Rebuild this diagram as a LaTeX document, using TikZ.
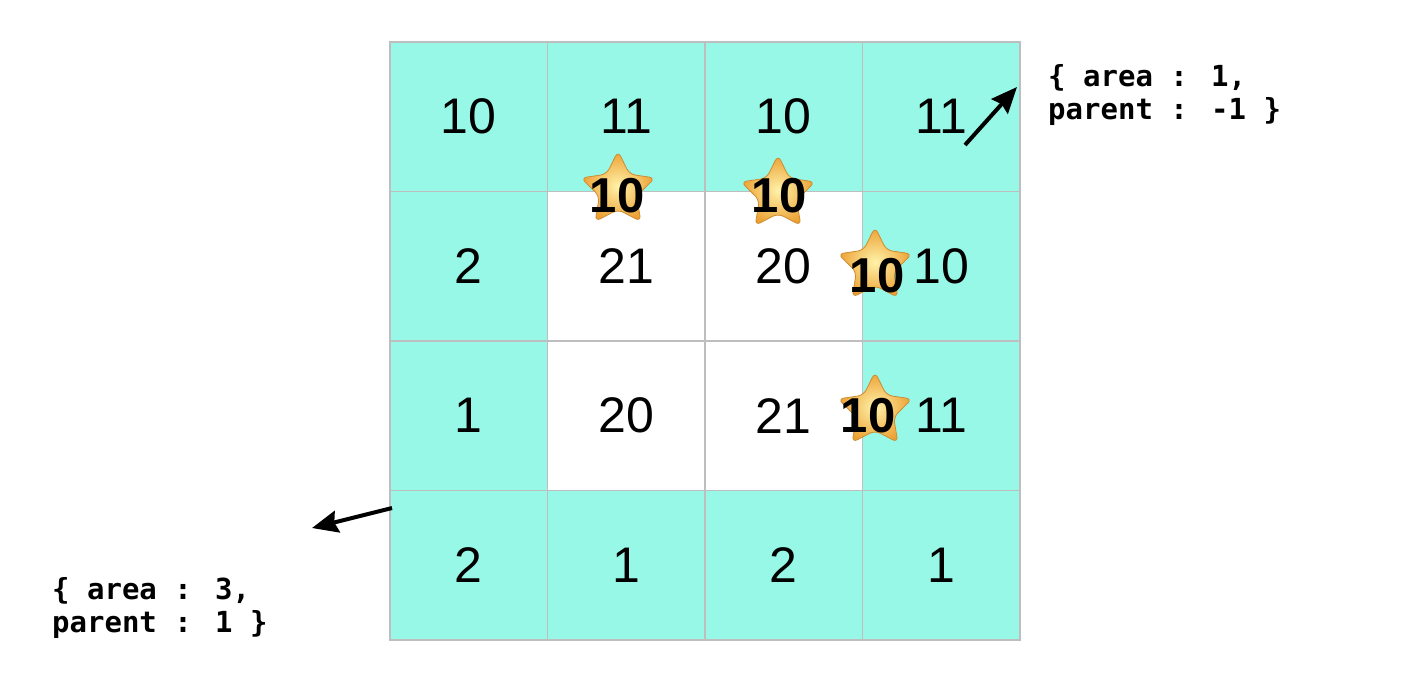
\documentclass[tikz,border=0pt]{standalone}
\usepackage{fontspec}
\setmainfont{Liberation Sans}
\newfontfamily\monob{DejaVu Sans Mono}
\usetikzlibrary{shapes.geometric,arrows.meta}
\definecolor{turq}{RGB}{152,248,232}
\definecolor{gridgray}{RGB}{190,190,190}
\definecolor{starin}{RGB}{255,242,170}
\definecolor{starout}{RGB}{236,160,50}
\definecolor{staredge}{RGB}{205,140,50}
\begin{document}
\begin{tikzpicture}[x=1pt,y=-1pt,
  cell/.style={draw=gridgray, line width=1.2pt, minimum width=157.5pt, minimum height=149.5pt, inner sep=0pt, font=\fontsize{50}{60}\selectfont},
  tcell/.style={cell, fill=turq},
  wcell/.style={cell, fill=white},
  starshape/.style={star, star points=5, star point ratio=2.0, minimum size=78pt, inner sep=0pt, rounded corners=6pt, draw=staredge, line width=0.8pt, inner color=starin, outer color=starout},
  starnum/.style={font=\bfseries\fontsize{49}{56}\selectfont, inner sep=0pt},
  ann/.style={font=\monob\bfseries\fontsize{29}{33}\selectfont, align=left, inner sep=0pt, anchor=north west},
  arr/.style={line width=4pt, -{Stealth[length=26pt,width=22pt,inset=3pt]}}
]
\fill[white] (0,0) rectangle (1416,696);
\useasboundingbox (0,0) rectangle (1416,696);
% row 1
\node[tcell] (c11) at (468.75,116.75) {10};
\node[tcell] (c12) at (626.25,116.75) {11};
\node[tcell] (c13) at (783.75,116.75) {10};
\node[tcell] (c14) at (941.25,116.75) {11};
% row 2
\node[tcell] (c21) at (468.75,266.25) {2};
\node[wcell] (c22) at (626.25,266.25) {21};
\node[wcell] (c23) at (783.75,266.25) {20};
\node[tcell] (c24) at (941.25,266.25) {10};
% row 3
\node[tcell] (c31) at (468.75,415.75) {1};
\node[wcell] (c32) at (626.25,415.75) {20};
\node[wcell] (c33) at (783.75,415.75) {21};
\node[tcell] (c34) at (941.25,415.75) {11};
% row 4
\node[tcell] (c41) at (468.75,565.25) {2};
\node[tcell] (c42) at (626.25,565.25) {1};
\node[tcell] (c43) at (783.75,565.25) {2};
\node[tcell] (c44) at (941.25,565.25) {1};
% stars
\node[starshape] (s1) at (618,190) {};
\node[starshape] (s2) at (778,194) {};
\node[starshape] (s3) at (875,266) {};
\node[starshape] (s4) at (875,411) {};
\node[starnum] (n1) at (617,196) {10};
\node[starnum] (n2) at (779,196) {10};
\node[starnum] (n3) at (877,276) {10};
\node[starnum] (n4) at (868,416) {10};
% annotations
\node[ann] (lab1) at (1048,64) {\{ area : 1,\\parent : -1 \}};
\node[ann] (lab2) at (52,577) {\{ area : 3,\\parent : 1 \}};
\coordinate (a1s) at (965,145);
\coordinate (a1e) at (1017,87);
\coordinate (a2s) at (392,508);
\coordinate (a2e) at (312,528);
\draw[arr] (a1s) -- (a1e);
\draw[arr] (a2s) -- (a2e);
\end{tikzpicture}
\end{document}
